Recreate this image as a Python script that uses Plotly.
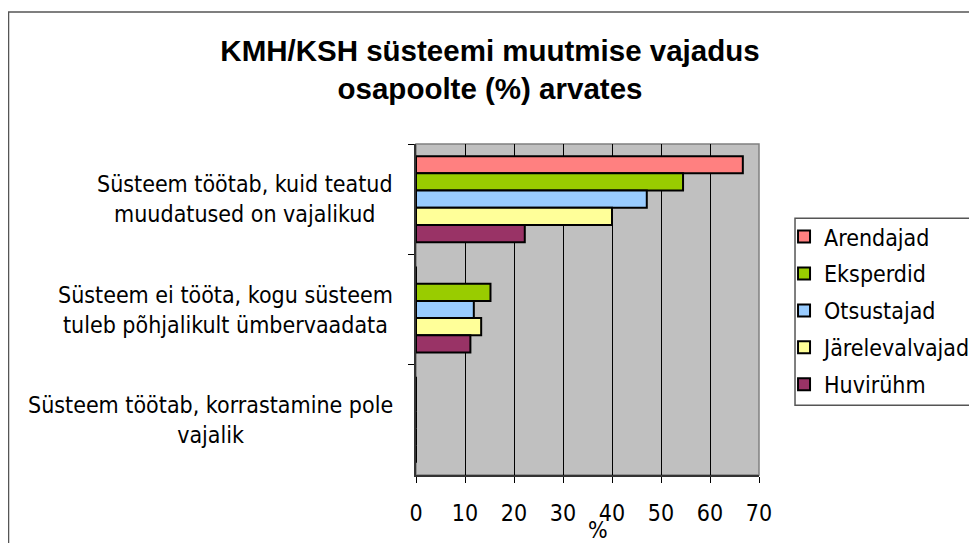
import plotly.graph_objects as go

categories = [
    "Süsteem töötab, kuid teatud<br>muudatused on vajalikud",
    "Süsteem ei tööta, kogu süsteem<br>tuleb põhjalikult ümbervaadata",
    "Süsteem töötab, korrastamine pole<br>vajalik",
]
series_names = ["Arendajad", "Eksperdid", "Otsustajad", "Järelevalvajad", "Huvirühm"]
arendajad = [66.7, 0, 0]
eksperdid = [54.5, 15.2, 0]
otsustajad = [47.1, 11.8, 0]
jarelevalvajad = [40.0, 13.3, 0]
huviruhm = [22.2, 11.1, 0]
series_values = [arendajad, eksperdid, otsustajad, jarelevalvajad, huviruhm]
colors = ["#FF8080", "#99CC00", "#99CCFF", "#FFFF99", "#993366"]
x_ticks = [0, 10, 20, 30, 40, 50, 60, 70]

FONT = "DejaVu Sans Condensed"
FS = 23

fig = go.Figure()
for i, (name, vals, col) in enumerate(zip(series_names, series_values, colors)):
    fig.add_trace(go.Bar(
        y=categories, x=vals, name=name, orientation="h",
        marker=dict(color=col, line=dict(color="black", width=2)),
        legendgroup=f"g{i}",
    ))

# category labels: block right-anchored, lines centered within block
for c in categories:
    fig.add_annotation(
        x=-0.061, xref="paper", y=c, yref="y",
        text=c, showarrow=False, align="center",
        xanchor="right", yanchor="middle",
        font=dict(family=FONT, size=FS, color="black"),
    )

fig.add_annotation(
    x=0.531, xref="paper", y=-0.166, yref="paper", text="%", showarrow=False,
    xanchor="center", yanchor="middle", font=dict(family=FONT, size=FS, color="black"),
)

# outer chart border
fig.add_shape(type="rect", xref="paper", yref="paper",
              x0=-1.188, x1=1.630, y0=-0.3, y1=1.399,
              line=dict(color="#555555", width=1.5), layer="below")
# plot-area frame (top/right grey)
fig.add_shape(type="rect", xref="paper", yref="paper",
              x0=0, x1=1, y0=0, y1=1,
              line=dict(color="#808080", width=1.5), layer="below")
# legend box
fig.add_shape(type="rect", xref="paper", yref="paper",
              x0=1.105, x1=1.7, y0=0.211, y1=0.776,
              line=dict(color="#555555", width=1.5), fillcolor="white", layer="below")

fig.update_layout(
    width=969, height=535,
    margin=dict(l=408, r=218, t=136, b=68, autoexpand=False),
    paper_bgcolor="white", plot_bgcolor="#C0C0C0",
    barmode="group", bargap=0.22, bargroupgap=0,
    title=dict(
        text="<b>KMH/KSH süsteemi muutmise vajadus<br>osapoolte (%) arvates</b>",
        x=(490 - 8) / 969, xref="container", xanchor="center",
        y=1 - 53 / 535, yref="container", yanchor="middle",
        font=dict(family="Liberation Sans", size=29.5, color="black"),
    ),
    legend=dict(
        x=1.073, xanchor="left", y=0.785, yanchor="top",
        borderwidth=0, bgcolor="rgba(0,0,0,0)",
        font=dict(family=FONT, size=FS, color="black"),
        traceorder="grouped", tracegroupgap=4,
        itemwidth=30,
    ),
    showlegend=True,
    xaxis=dict(
        range=[0, 70], tickvals=x_ticks, ticktext=[str(t) for t in x_ticks],
        showgrid=True, gridcolor="black", gridwidth=1,
        zeroline=False, showline=True, linecolor="#333333", linewidth=2,
        ticks="outside", ticklen=6, tickcolor="black",
        ticklabelstandoff=10,
        tickfont=dict(family=FONT, size=FS, color="black"),
        fixedrange=True,
    ),
    yaxis=dict(
        autorange="reversed", showticklabels=False,
        showline=True, linecolor="#333333", linewidth=2,
        ticks="outside", tickson="boundaries", ticklen=6, tickcolor="black",
        showgrid=False, fixedrange=True,
    ),
)

fig.write_html("out.html")
